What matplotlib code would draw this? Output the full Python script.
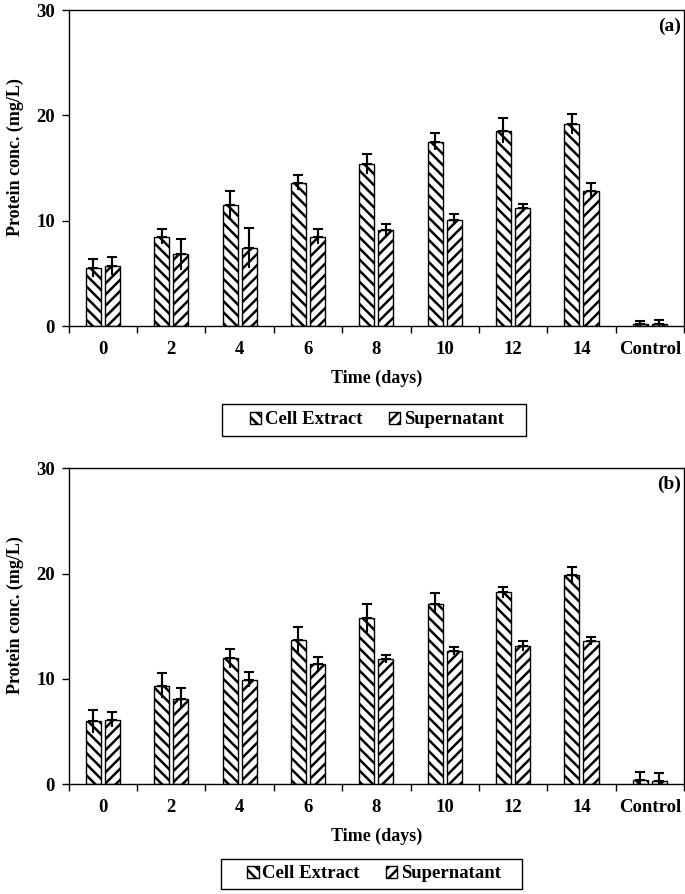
import matplotlib.pyplot as plt
import matplotlib.patches as mpatches
import numpy as np

plt.rcParams['font.family'] = 'Liberation Serif'
plt.rcParams['font.weight'] = 'bold'
plt.rcParams['hatch.linewidth'] = 1.8

groups = ["0", "2", "4", "6", "8", "10", "12", "14", "Control"]

# panel (a)
cell_a = [5.5, 8.5, 11.5, 13.6, 15.4, 17.5, 18.55, 19.2, 0.15]
cell_a_err = [0.85, 0.7, 1.3, 0.7, 0.95, 0.8, 1.2, 0.95, 0.35]
sup_a = [5.7, 6.8, 7.4, 8.5, 9.15, 10.1, 11.2, 12.85, 0.2]
sup_a_err = [0.9, 1.5, 1.9, 0.75, 0.55, 0.55, 0.35, 0.75, 0.4]

# panel (b)
cell_b = [5.95, 9.35, 11.95, 13.65, 15.75, 17.15, 18.2, 19.85, 0.4]
cell_b_err = [1.1, 1.2, 0.9, 1.25, 1.4, 1.0, 0.55, 0.75, 0.77]
sup_b = [6.1, 8.1, 9.9, 11.4, 11.9, 12.65, 13.1, 13.6, 0.25]
sup_b_err = [0.7, 1.0, 0.7, 0.7, 0.4, 0.4, 0.45, 0.35, 0.8]

W, H = 685, 894
fig = plt.figure(figsize=(W / 100, H / 100), dpi=100)


def draw_panel(rect, cell, cell_err, sup, sup_err, tag, leg_box):
    ax = fig.add_axes(rect)
    x = np.arange(len(groups))
    w = 0.22
    b1 = ax.bar(x - 0.14, cell, w, color='white', edgecolor='black',
                hatch='\\\\\\', linewidth=1.0, label='Cell Extract')
    b2 = ax.bar(x + 0.14, sup, w, color='white', edgecolor='black',
                hatch='///', linewidth=1.0, label='Supernatant')
    # error bars: line goes both ways, cap only on top
    for xs, ys, es in [(x - 0.14, cell, cell_err), (x + 0.14, sup, sup_err)]:
        ax.errorbar(xs, ys, yerr=es, fmt='none', ecolor='black', elinewidth=1.5,
                    capsize=0)
        ax.errorbar(xs, ys, yerr=[np.zeros(len(es)), es], fmt='none', ecolor='black',
                    elinewidth=1.5, capsize=3.5, capthick=1.5)
    ax.set_xlim(-0.5, len(groups) - 0.5)
    ax.set_ylim(0, 30)
    ax.set_yticks([0, 10, 20, 30])
    ax.set_xticks(x)
    ax.set_xticklabels(groups)
    ax.set_xticks(np.arange(len(groups) + 1) - 0.5, minor=True)
    ax.tick_params(axis='x', which='major', length=0, pad=11, labelsize=13.5)
    ax.tick_params(axis='x', which='minor', length=5, direction='out', width=1)
    ax.tick_params(axis='y', length=5, direction='out', width=1, labelsize=13.5, pad=5)
    for s in ax.spines.values():
        s.set_linewidth(1.0)
    ax.set_xlabel("Time (days)", fontsize=13, fontweight='bold', labelpad=8)
    ax.set_ylabel("Protein conc. (mg/L)", fontsize=13, fontweight='bold')
    ax.yaxis.set_label_coords(-0.072, 0.535)
    ax.text(0.995, 0.975, tag, transform=ax.transAxes, ha='right', va='top',
            fontsize=14, fontweight='bold')
    # legend with its own frame box
    x0, y0, x1, y1 = leg_box
    fig.patches.append(mpatches.Rectangle((x0 / W, 1 - y1 / H), (x1 - x0) / W,
                                          (y1 - y0) / H, transform=fig.transFigure,
                                          facecolor='white', edgecolor='black',
                                          linewidth=1.0))
    fig.legend([b1, b2], ['Cell Extract', 'Supernatant'], loc='center',
               bbox_to_anchor=((x0 + x1) / 2 / W + 0.004, 1 - (y0 + y1) / 2 / H),
               ncol=2, frameon=False, prop={'size': 13.5, 'weight': 'bold'},
               handlelength=0.6, handleheight=0.6, handletextpad=0.2,
               columnspacing=1.4, borderpad=0.2, borderaxespad=0)
    return ax


draw_panel([0.1003, 0.6353, 0.8982, 0.3535], cell_a, cell_a_err, sup_a, sup_a_err,
           "(a)", (222, 404, 526, 436))
draw_panel([0.1003, 0.1230, 0.8982, 0.3532], cell_b, cell_b_err, sup_b, sup_b_err,
           "(b)", (221, 859, 522, 889))

fig.savefig("out.png", dpi=100)
